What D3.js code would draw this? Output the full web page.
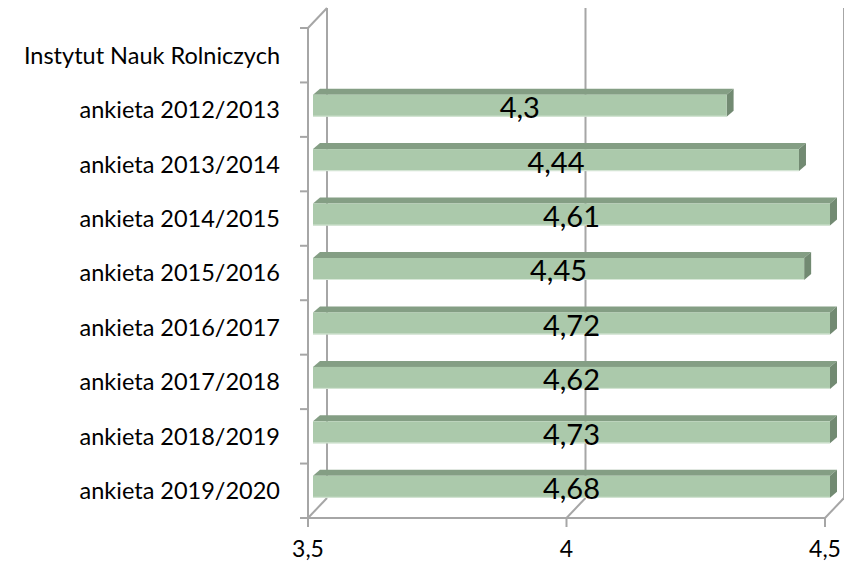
<!DOCTYPE html>
<html><head><meta charset="utf-8">
<script src="https://cdn.jsdelivr.net/npm/d3@7/dist/d3.min.js"></script>
<style>body{margin:0;background:#fff}svg{display:block}</style>
</head><body>
<script>
const categories = ["Instytut Nauk Rolniczych","ankieta 2012/2013","ankieta 2013/2014","ankieta 2014/2015","ankieta 2015/2016","ankieta 2016/2017","ankieta 2017/2018","ankieta 2018/2019","ankieta 2019/2020"];
const values = [null,4.3,4.44,4.61,4.45,4.72,4.62,4.73,4.68];
const labels = ["","4,3","4,44","4,61","4,45","4,72","4,62","4,73","4,68"];
const xTicks = [3.5,4,4.5];
const xTickLabels = ["3,5","4","4,5"];

const W=844,H=566;
const FONT="Lato, 'Open Sans', sans-serif";
const svg=d3.select("body").append("svg").attr("width",W).attr("height",H);
const x=d3.scaleLinear().domain([3.5,4.5]).range([308,825]);
const y=d3.scaleBand().domain(categories).range([28,518]);
const dX=19,dY=-20;          // wall depth
const bOX=5,bOY=-4;          // bar front offset
const bDX=7,bDY=-6;          // bar depth
const bh=22;
const grid="#a6a6a6";
const top0=y.range()[0], bot=y.range()[1];

svg.selectAll(".bg").data(xTicks).join("line")
 .attr("x1",d=>x(d)+dX).attr("x2",d=>x(d)+dX)
 .attr("y1",top0+dY).attr("y2",bot+dY)
 .attr("stroke",grid).attr("stroke-width",2);
svg.selectAll(".fd").data(xTicks).join("line")
 .attr("x1",d=>x(d)).attr("x2",d=>x(d)+dX)
 .attr("y1",bot).attr("y2",bot+dY)
 .attr("stroke",grid).attr("stroke-width",2);
svg.append("line").attr("x1",x(3.5)).attr("x2",x(4.5)).attr("y1",bot).attr("y2",bot)
 .attr("stroke",grid).attr("stroke-width",2);
svg.selectAll(".bt").data(xTicks).join("line")
 .attr("x1",d=>x(d)).attr("x2",d=>x(d)).attr("y1",bot).attr("y2",bot+9)
 .attr("stroke",grid).attr("stroke-width",2);
svg.append("line").attr("x1",x(3.5)).attr("x2",x(3.5)).attr("y1",top0).attr("y2",bot)
 .attr("stroke",grid).attr("stroke-width",2);
svg.append("line").attr("x1",x(3.5)).attr("x2",x(3.5)+dX).attr("y1",top0).attr("y2",top0+dY)
 .attr("stroke",grid).attr("stroke-width",2);
const bounds=categories.map(c=>y(c)).concat([bot]);
svg.selectAll(".lt").data(bounds).join("line")
 .attr("x1",x(3.5)-8).attr("x2",x(3.5)).attr("y1",d=>d).attr("y2",d=>d)
 .attr("stroke",grid).attr("stroke-width",2);

const data=categories.map((c,i)=>({c,v:values[i],l:labels[i]})).filter(d=>d.v!=null);
const g=svg.append("g");
data.forEach(d=>{
  const x0=x(3.5)+bOX, x1=x(Math.min(d.v,4.5))+bOX;
  const yc=y(d.c)+y.bandwidth()/2+bOY;
  const y0=yc-bh/2, y1=yc+bh/2;
  g.append("path").attr("d",`M${x0},${y0}L${x0+bDX},${y0+bDY}L${x1+bDX},${y0+bDY}L${x1},${y0}Z`)
   .attr("fill","#849e84");
  g.append("path").attr("d",`M${x1},${y0}L${x1+bDX},${y0+bDY}L${x1+bDX},${y1+bDY}L${x1},${y1}Z`)
   .attr("fill","#728a72");
  g.append("rect").attr("x",x0).attr("y",y0).attr("width",x1-x0).attr("height",bh)
   .attr("fill","#abc9ab");
  g.append("line").attr("x1",x0).attr("x2",x1).attr("y1",y1-0.5).attr("y2",y1-0.5)
   .attr("stroke","#d8e8d8").attr("stroke-width",1);
  g.append("text").attr("x",(x0+x1)/2).attr("y",yc+2).attr("dy","0.36em")
   .attr("text-anchor","middle").attr("font-family",FONT)
   .attr("font-size",29).attr("fill","#000").text(d.l);
});

svg.selectAll(".cl").data(categories).join("text")
 .attr("x",280).attr("y",d=>y(d)+y.bandwidth()/2).attr("dy","0.36em")
 .attr("text-anchor","end").attr("font-family",FONT)
 .attr("font-size",23.5).attr("fill","#000").text(d=>d);

svg.selectAll(".xl").data(xTicks).join("text")
 .attr("x",d=>x(d)).attr("y",549).attr("dy","0.36em")
 .attr("text-anchor","middle").attr("font-family",FONT)
 .attr("font-size",23).attr("fill","#000").text((d,i)=>xTickLabels[i]);
</script>
</body></html>
